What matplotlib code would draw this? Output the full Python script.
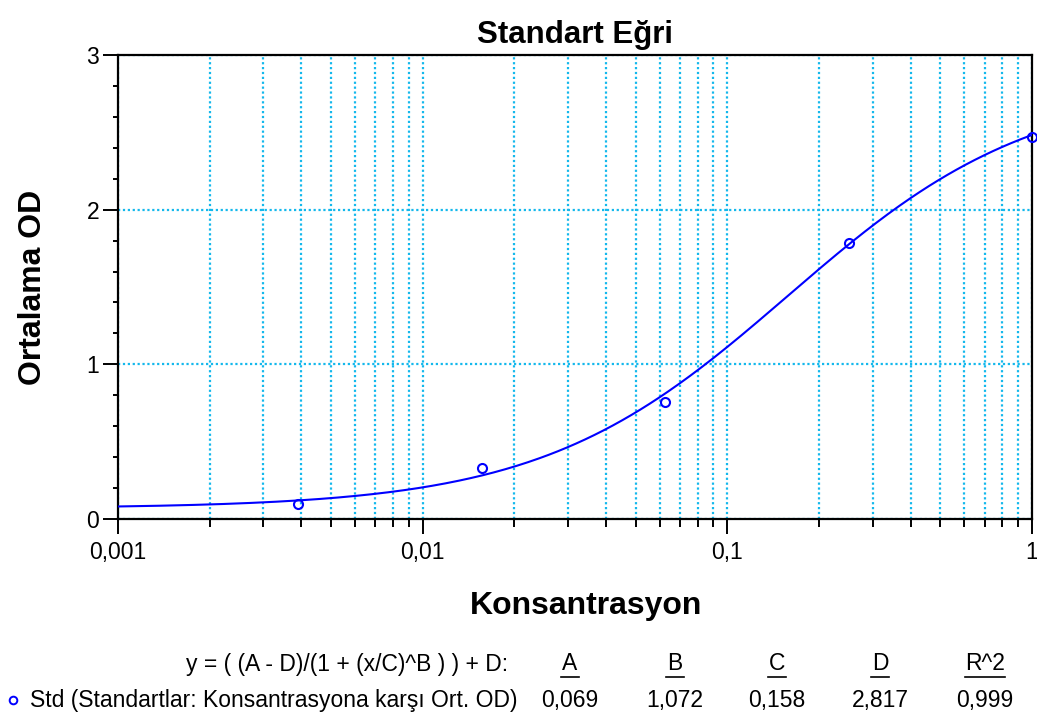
import numpy as np
import matplotlib.pyplot as plt
from matplotlib.lines import Line2D
from matplotlib.ticker import FixedLocator, LogLocator, MultipleLocator, NullFormatter

plt.rcParams['font.family'] = ['Liberation Sans', 'DejaVu Sans']

# standards (4-fold dilutions) and mean OD
conc = [0.0039, 0.0156, 0.0625, 0.25, 1.0]
od = [0.10, 0.33, 0.755, 1.785, 2.47]

# 4PL fit parameters
A, B, C, D = 0.069, 1.072, 0.158, 2.817
param_names = ['A', 'B', 'C', 'D', 'R^2']
param_vals = ['0,069', '1,072', '0,158', '2,817', '0,999']

x_ticks = [0.001, 0.01, 0.1, 1]
x_labels = ['0,001', '0,01', '0,1', '1']
y_ticks = [0, 1, 2, 3]

blue = '#0000ff'
grid_c = '#14b8ec'

fig = plt.figure(figsize=(10.37, 7.2), dpi=100)
ax = fig.add_axes([118/1037, 1 - 519/720, (1032-118)/1037, (519-55)/720])

xs = np.logspace(-3, 0, 400)
ys = (A - D) / (1 + (xs / C) ** B) + D
ax.plot(xs, ys, color=blue, lw=1.5, zorder=3)
ax.plot(conc, od, 'o', mfc='none', mec=blue, ms=6.5, mew=1.5, zorder=4, clip_on=False)

ax.set_xscale('log')
ax.set_xlim(0.001, 1)
ax.set_ylim(0, 3)
ax.xaxis.set_major_locator(FixedLocator(x_ticks))
ax.set_xticklabels(x_labels)
ax.xaxis.set_minor_locator(LogLocator(base=10, subs=np.arange(2, 10)))
ax.xaxis.set_minor_formatter(NullFormatter())
ax.yaxis.set_major_locator(FixedLocator(y_ticks))
ax.yaxis.set_minor_locator(MultipleLocator(0.2))

ax.grid(True, which='both', axis='x', color=grid_c, ls=(0, (1, 1.2)), lw=1.6)
ax.grid(True, which='major', axis='y', color=grid_c, ls=(0, (1, 1.2)), lw=1.6)

for s in ax.spines.values():
    s.set_linewidth(1.6)
ax.tick_params(which='major', direction='out', length=10.5, width=1.4, labelsize=16.5, pad=5)
ax.tick_params(axis='x', which='minor', direction='out', length=6, width=1.4)
ax.tick_params(axis='y', which='minor', direction='out', length=3.5, width=1.4)
ax.tick_params(axis='y', which='major', pad=3)

ax.set_title('Standart Eğri', fontsize=22.5, fontweight='bold', pad=9)
ax.set_xlabel('Konsantrasyon', fontsize=23, fontweight='bold', labelpad=22)
ax.xaxis.set_label_coords(0.512, -0.155)
ax.set_ylabel('Ortalama OD', fontsize=23, fontweight='bold', labelpad=28)

# fit summary below the plot
fs = 16.5
fig.text(508/1037, 1 - 664/720, 'y = ( (A - D)/(1 + (x/C)^B ) ) + D:', ha='right', va='center', fontsize=fs)
col_x = [570, 675, 777, 880, 985]
for cx, name, val in zip(col_x, param_names, param_vals):
    fig.text(cx/1037, 1 - 664/720, name, ha='center', va='center', fontsize=fs)
    w = 9 if len(name) == 1 else 20
    fig.add_artist(Line2D([(cx - w)/1037, (cx + w)/1037], [1 - 677/720, 1 - 677/720], color='black', lw=1.2))
    fig.text(cx/1037, 1 - 700/720, val, ha='center', va='center', fontsize=fs)
fig.add_artist(Line2D([13/1037], [1 - 700/720], marker='o', mfc='none', mec=blue, ms=5.5, mew=1.4))
fig.text(30/1037, 1 - 700/720, 'Std (Standartlar: Konsantrasyona karşı Ort. OD)', ha='left', va='center', fontsize=fs)

fig.savefig('out.png', dpi=100)
